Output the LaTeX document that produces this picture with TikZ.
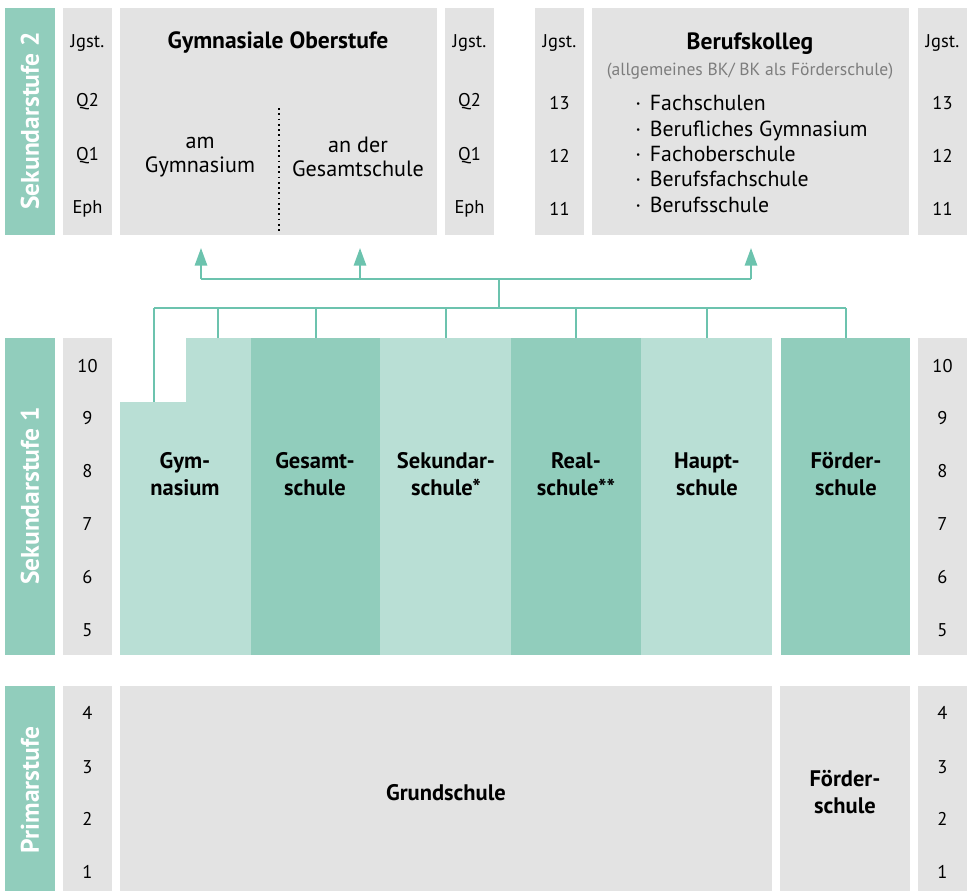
\documentclass[tikz,border=0pt]{standalone}
\usepackage{fontspec}
\setmainfont{PT Sans}
\usepackage{tikz}
\usetikzlibrary{arrows.meta,positioning}

\definecolor{grau}{RGB}{227,227,227}
\definecolor{gruendunkel}{RGB}{145,205,188}
\definecolor{gruenhell}{RGB}{185,223,213}
\definecolor{linie}{RGB}{108,195,174}
\definecolor{textgrau}{RGB}{125,125,125}

\newcommand{\pkt}{·\hspace{5pt}}

\begin{document}
\begin{tikzpicture}[x=0.02cm,y=-0.02cm,
    stufe/.style={rotate=90,text=white,font=\bfseries\fontsize{14.5}{16}\selectfont},
    jg/.style={font=\fontsize{10.5}{12}\selectfont},
    schule/.style={align=center,font=\bfseries\fontsize{12.8}{15.3}\selectfont},
    zweig/.style={align=center,font=\fontsize{12.6}{13.6}\selectfont},
    pfeil/.style={draw=linie,line width=1.1pt,-{Triangle[length=10pt,width=7pt]}},
    ast/.style={draw=linie,line width=1.1pt}]
    \useasboundingbox (0,0) rectangle (971,893);

    % Sekundarstufe 2
    \begin{scope}
        \fill[gruendunkel] (5,8) rectangle (55,235);
        \fill[grau] (63,8) rectangle (112,235);
        \fill[grau] (120,8) rectangle (437,235);
        \fill[grau] (445,8) rectangle (494,235);
        \fill[grau] (535,8) rectangle (584,235);
        \fill[grau] (592,8) rectangle (909,235);
        \fill[grau] (918,8) rectangle (967,235);
        \node[stufe] (sek2) at (30,121) {Sekundarstufe 2};
        \foreach \y/\t [count=\i] in {43/Jgst.,102/Q2,156/Q1,209/Eph} {
            \node[jg] (gl\i) at (87.5,\y) {\t};
            \node[jg] (gr\i) at (469.5,\y) {\t};
        }
        \foreach \y/\t [count=\i] in {43/Jgst.,103/13,156/12,209/11} {
            \node[jg] (bl\i) at (559.5,\y) {\t};
            \node[jg] (br\i) at (942.5,\y) {\t};
        }
        \node[font=\bfseries\fontsize{13.4}{15}\selectfont] (oberstufe) at (278,43) {Gymnasiale Oberstufe};
        \draw[line width=1pt,dotted] (279,108) -- (279,233);
        \node[zweig] (amgym) at (200,157) {am\\Gymnasium};
        \node[zweig] (amges) at (358,157) {an der\\Gesamtschule};
        \node[font=\bfseries\fontsize{13.4}{15}\selectfont] (bk) at (750,44) {Berufskolleg};
        \node[text=textgrau,font=\fontsize{10}{12}\selectfont] (bkart) at (750,71) {(allgemeines BK/ BK als Förderschule)};
        \node[anchor=west,align=left,font=\fontsize{12.4}{14.5}\selectfont,inner sep=0pt] (bkliste) at (635,154)
            {\pkt Fachschulen\\\pkt Berufliches Gymnasium\\\pkt Fachoberschule\\\pkt Berufsfachschule\\\pkt Berufsschule};
    \end{scope}

    % Uebergaenge
    \coordinate (oben) at (499,279);
    \coordinate (verteiler) at (499,308);
    \coordinate (zgym) at (201,248);
    \coordinate (zges) at (360,248);
    \coordinate (zbk) at (751,248);
    \draw[ast] (oben) -- (verteiler);
    \draw[ast] (201,279) -- (751,279);
    \draw[pfeil] (201,279) -- (zgym);
    \draw[pfeil] (360,279) -- (zges);
    \draw[pfeil] (751,279) -- (zbk);
    \draw[ast] (154,308) -- (846,308);
    \draw[ast] (154,308) -- (154,402);
    \foreach \x in {218,316,446,576,707,846}
        \draw[ast] (\x,308) -- (\x,338);

    % Sekundarstufe 1
    \begin{scope}
        \fill[gruendunkel] (5,338) rectangle (55,655);
        \fill[grau] (63,338) rectangle (112,655);
        \fill[gruenhell] (120,402) rectangle (251,655);
        \fill[gruenhell] (186,338) rectangle (251,402);
        \fill[gruendunkel] (251,338) rectangle (380,655);
        \fill[gruenhell] (380,338) rectangle (511,655);
        \fill[gruendunkel] (511,338) rectangle (641,655);
        \fill[gruenhell] (641,338) rectangle (772,655);
        \fill[gruendunkel] (781,338) rectangle (910,655);
        \fill[grau] (918,338) rectangle (967,655);
        \node[stufe] (sek1) at (30,496) {Sekundarstufe 1};
        \foreach \y/\t [count=\i] in {366/10,418/9,471/8,524/7,577/6,630/5} {
            \node[jg] (sl\i) at (87.5,\y) {\t};
            \node[jg] (sr\i) at (942.5,\y) {\t};
        }
        \node[schule] (gym) at (185,474) {Gym-\\nasium};
        \node[schule] (ges) at (315,474) {Gesamt-\\schule};
        \node[schule] (sek) at (446,474) {Sekundar-\\schule*};
        \node[schule] (real) at (576,474) {Real-\\schule**};
        \node[schule] (haupt) at (707,474) {Haupt-\\schule};
        \node[schule] (foerder) at (846,474) {Förder-\\schule};
    \end{scope}

    % Primarstufe
    \begin{scope}
        \fill[gruendunkel] (5,686) rectangle (55,891);
        \fill[grau] (63,686) rectangle (112,891);
        \fill[grau] (120,686) rectangle (772,891);
        \fill[grau] (780,686) rectangle (910,891);
        \fill[grau] (918,686) rectangle (967,891);
        \node[stufe] (prim) at (30,790) {Primarstufe};
        \foreach \y/\t [count=\i] in {713/4,767/3,819/2,872/1} {
            \node[jg] (pl\i) at (87.5,\y) {\t};
            \node[jg] (pr\i) at (942.5,\y) {\t};
        }
        \node[schule] (grund) at (446,793) {Grundschule};
        \node[schule] (pfoerder) at (845,792) {Förder-\\schule};
    \end{scope}
\end{tikzpicture}
\end{document}
